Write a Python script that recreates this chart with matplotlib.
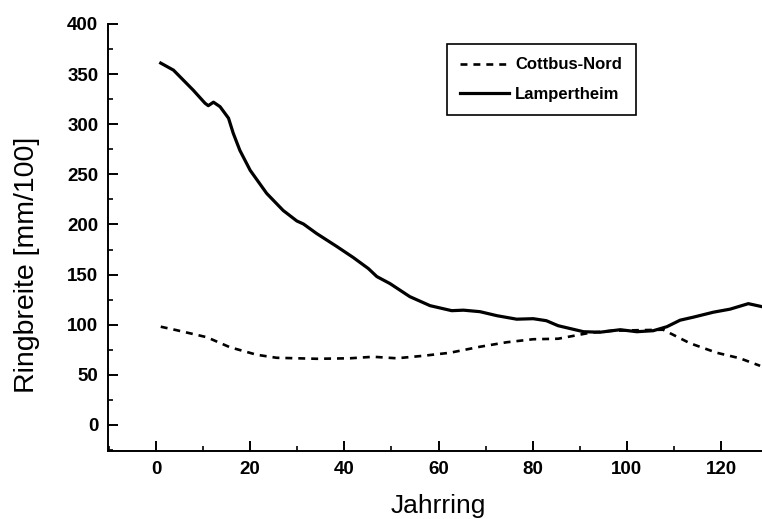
import matplotlib
matplotlib.use("Agg")
from matplotlib import pyplot as plt
from matplotlib.ticker import MultipleLocator

# values
lamp_years = [1, 3.7, 5.8, 7.9, 10.4, 11.1, 12.2, 13.6, 15.4, 16.4, 17.8, 20, 23.5, 27,
              29.9, 31.3, 34.1, 38.4, 41.9, 45.1, 46.9, 49.7, 53.9, 58.2, 62.8, 65.3,
              68.8, 72.4, 76.6, 80.1, 82.9, 85.4, 87.2, 90.8, 94.3, 98.6, 102.1, 105.6,
              108.5, 111.3, 114.1, 118.4, 121.9, 125.8, 128.7]
lamp_width = [361, 354, 344, 334, 321, 318.5, 322, 317.5, 306, 291, 274, 254, 231, 214,
              203.5, 200.5, 191, 178, 167, 156, 148, 141, 128, 119, 114, 114.5,
              113, 109, 105.5, 106, 104, 99, 97, 93, 92.5, 95, 93, 94,
              98, 104.5, 107.5, 112.5, 115.5, 121, 118]

cott_years = [1, 4.4, 10.8, 15.7, 21.4, 25.6, 34.2, 41.2, 46.1, 51.1, 56.8, 62.4, 68.8,
              74.5, 80.1, 85.4, 92.2, 97, 107.7, 113.4, 119.1, 124, 128.3]
cott_width = [98, 94.5, 87.5, 77.5, 70, 67, 66, 66.5, 68, 66.5, 69, 72, 78,
              82.5, 85.5, 86, 92, 94, 95, 81.5, 72, 66.5, 59]

plt.rcParams['font.family'] = ['Liberation Sans', 'DejaVu Sans']
plt.rcParams['lines.scale_dashes'] = False

fig = plt.figure(figsize=(7.62, 5.19), dpi=100)
ax = fig.add_axes([108/762, 68/519, 654/762, 427/519])

ax.plot(cott_years, cott_width, color='black', lw=1.9, dashes=(5, 4.3), label='Cottbus-Nord')
ax.plot(lamp_years, lamp_width, color='black', lw=2.3, label='Lampertheim')

ax.set_xlim(-10.2, 128.7)
ax.set_ylim(-26, 400)
ax.xaxis.set_major_locator(MultipleLocator(20))
ax.xaxis.set_minor_locator(MultipleLocator(10))
ax.yaxis.set_major_locator(MultipleLocator(50))
ax.yaxis.set_minor_locator(MultipleLocator(25))

ax.spines['top'].set_visible(False)
ax.spines['right'].set_visible(False)
ax.spines['left'].set_linewidth(1.4)
ax.spines['bottom'].set_linewidth(1.4)
ax.tick_params(which='major', direction='in', length=7, width=1.4, labelsize=13.5, pad=7)
ax.tick_params(which='minor', direction='in', length=3.5, width=1.2)
for lab in ax.get_xticklabels() + ax.get_yticklabels():
    lab.set_fontweight('bold')

fig.text(27/762, 1 - 265/519, 'Ringbreite [mm/100]', rotation=90, fontsize=20.5,
         ha='center', va='center')
fig.text(438/762, 0.5/519, 'Jahrring', fontsize=19, ha='center', va='bottom')

leg = ax.legend(loc='upper left', bbox_to_anchor=((447-108)/654, (451-44)/427),
                borderaxespad=0, fancybox=False, framealpha=1, edgecolor='black',
                handlelength=2.9, handletextpad=0.4, borderpad=0.8, labelspacing=0.85,
                prop={'weight': 'bold', 'size': 12})
leg.get_frame().set_linewidth(1.2)

fig.savefig('out.png', dpi=100)
